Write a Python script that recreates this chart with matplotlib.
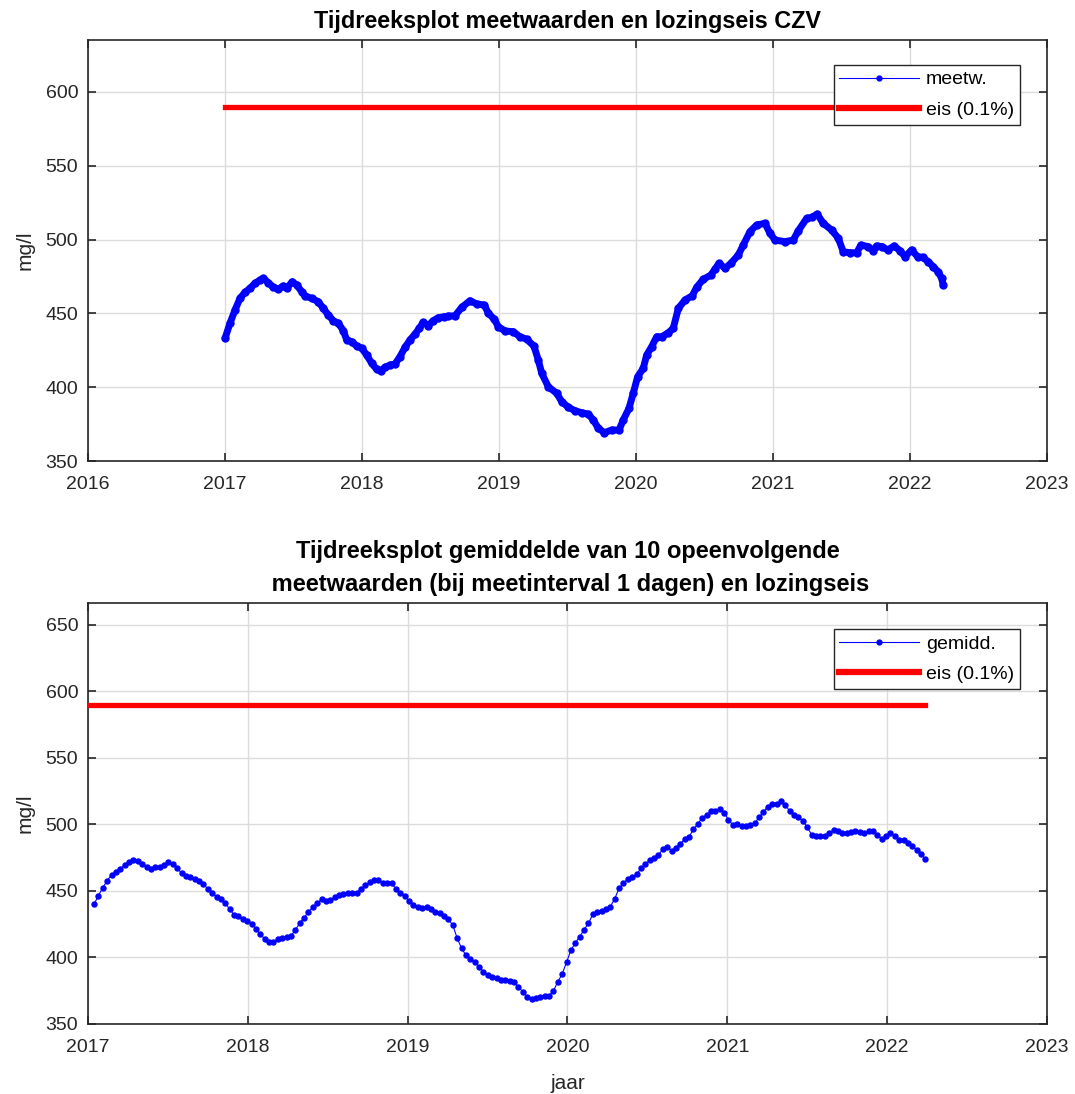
import matplotlib
matplotlib.use('Agg')
import matplotlib.pyplot as plt
from matplotlib.lines import Line2D
import numpy as np

plt.rcParams['font.family'] = ['Liberation Sans', 'DejaVu Sans']

top_t = [2017.000, 2017.036, 2017.073, 2017.109, 2017.146, 2017.182, 2017.219, 2017.255, 2017.280, 2017.316,
         2017.353, 2017.389, 2017.426, 2017.450, 2017.491, 2017.523, 2017.560, 2017.584, 2017.633, 2017.681,
         2017.718, 2017.754, 2017.791, 2017.827, 2017.864, 2017.888, 2017.925, 2017.961, 2017.998, 2018.034,
         2018.071, 2018.107, 2018.136, 2018.168, 2018.204, 2018.241, 2018.277, 2018.314, 2018.350, 2018.387,
         2018.418, 2018.447, 2018.484, 2018.520, 2018.557, 2018.601, 2018.630, 2018.679, 2018.728, 2018.788,
         2018.837, 2018.893, 2018.922, 2018.966, 2018.995, 2019.044, 2019.104, 2019.153, 2019.202, 2019.255,
         2019.287, 2019.312, 2019.360, 2019.421, 2019.458, 2019.506, 2019.555, 2019.604, 2019.652, 2019.688,
         2019.725, 2019.769, 2019.823, 2019.876, 2019.907, 2019.949, 2019.980, 2020.012, 2020.053, 2020.078,
         2020.114, 2020.151, 2020.188, 2020.236, 2020.272, 2020.309, 2020.358, 2020.411, 2020.443, 2020.491,
         2020.547, 2020.577, 2020.606, 2020.650, 2020.693, 2020.747, 2020.783, 2020.832, 2020.881, 2020.942,
         2020.978, 2021.015, 2021.088, 2021.148, 2021.185, 2021.246, 2021.282, 2021.323, 2021.367, 2021.428,
         2021.477, 2021.513, 2021.562, 2021.611, 2021.642, 2021.696, 2021.732, 2021.756, 2021.798, 2021.837,
         2021.885, 2021.927, 2021.964, 2022.012, 2022.056, 2022.092, 2022.134, 2022.170, 2022.206, 2022.231,
         2022.243]
top_v = [433.1, 443.3, 452.3, 460.2, 464.3, 467.0, 470.4, 472.6, 473.8, 470.8,
         467.7, 466.5, 468.6, 467.0, 471.5, 469.2, 464.7, 461.8, 460.2, 457.9,
         453.4, 448.9, 444.9, 443.3, 438.3, 432.0, 430.8, 427.9, 426.4, 421.8,
         416.2, 412.1, 411.0, 413.5, 415.0, 415.7, 420.7, 427.0, 432.0, 436.0,
         439.9, 444.0, 441.7, 445.1, 447.1, 447.8, 448.2, 448.4, 454.1, 458.6,
         456.4, 455.7, 450.1, 446.0, 441.0, 438.1, 437.6, 434.2, 432.5, 427.9,
         418.4, 409.4, 400.3, 395.9, 390.2, 386.4, 384.1, 382.7, 381.8, 377.8,
         372.2, 369.2, 371.0, 371.0, 377.8, 385.7, 395.9, 407.1, 412.8, 421.8,
         427.4, 434.2, 434.2, 436.9, 439.9, 453.4, 459.1, 462.0, 467.7, 473.1,
         476.0, 480.1, 483.9, 480.6, 483.9, 489.6, 496.3, 505.4, 509.9, 511.0,
         504.3, 499.7, 498.6, 499.7, 506.0, 514.4, 515.0, 517.3, 511.0, 506.5,
         500.9, 491.8, 491.1, 491.1, 496.3, 495.2, 492.5, 495.7, 495.2, 493.0,
         495.7, 492.5, 488.4, 493.0, 488.4, 488.0, 485.0, 481.6, 478.2, 473.8,
         469.2]

# 10-day means, first one mid January 2017
gem_start = 2017.0375
gem_step = 10 / 365.25
gem_v = [440.0, 446.5, 452.5, 457.7, 462.3, 464.5, 466.8, 469.5, 471.6, 473.3,
         472.6, 470.3, 467.8, 466.8, 468.3, 468.3, 469.8, 471.6, 470.3, 467.3,
         463.3, 461.5, 460.3, 459.3, 457.7, 455.0, 451.7, 448.7, 445.3, 443.8,
         441.0, 436.2, 432.0, 431.2, 428.7, 427.4, 425.2, 421.4, 417.7, 413.9,
         411.9, 411.4, 413.7, 414.7, 415.7, 416.2, 420.7, 425.7, 429.9, 434.2,
         437.7, 440.7, 443.8, 442.5, 443.2, 445.3, 447.0, 447.7, 448.3, 448.7,
         448.7, 451.3, 454.3, 456.5, 458.3, 458.3, 456.2, 455.8, 455.8, 451.5,
         448.7, 446.5, 442.3, 439.7, 438.2, 437.2, 437.7, 436.2, 434.2, 433.5,
         431.2, 428.7, 424.2, 414.4, 406.9, 401.6, 398.6, 396.6, 392.9, 389.3,
         386.8, 385.3, 384.6, 383.3, 382.8, 382.1, 381.6, 378.0, 374.0, 370.5,
         368.8, 369.5, 370.3, 371.3, 371.3, 375.0, 381.8, 387.6, 396.6, 405.6,
         410.9, 415.7, 420.9, 425.7, 432.5, 434.0, 434.7, 436.5, 438.2, 444.2,
         452.0, 456.0, 459.0, 460.8, 462.5, 467.0, 470.0, 473.3, 474.8, 477.3,
         481.3, 483.3, 480.3, 482.6, 485.6, 488.9, 490.8, 496.4, 500.4, 505.1,
         507.1, 509.9, 510.4, 511.4, 508.9, 503.4, 499.6, 500.2, 498.9, 498.9,
         499.6, 500.9, 505.4, 509.6, 513.4, 515.4, 515.6, 517.4, 514.7, 509.9,
         507.4, 505.4, 502.6, 497.9, 492.3, 491.4, 491.4, 491.1, 493.4, 495.9,
         495.1, 493.6, 493.4, 494.6, 495.3, 494.6, 493.4, 495.3, 495.3, 492.3,
         489.3, 491.1, 493.4, 491.4, 488.6, 488.3, 486.3, 483.8, 481.0, 478.0,
         473.8]
gem_t = gem_start + gem_step * np.arange(len(gem_v))

eis = 590
eis_t = [2017.0, 2022.24]

fig = plt.figure(figsize=(10.75, 10.94), dpi=100)
ax1 = fig.add_axes([0.0819, 0.5786, 0.892, 0.3848])
ax2 = fig.add_axes([0.0819, 0.0640, 0.892, 0.3848])

ax1.plot(top_t, top_v, color='#0000ff', lw=5.0, marker='o', ms=5.0, solid_joinstyle='round',
         solid_capstyle='round', zorder=3)
ax1.plot(eis_t, [eis, eis], color='#ff0000', lw=3.8, zorder=3)
ax2.plot(gem_t, gem_v, color='#0000ff', lw=0.8, marker='o', ms=3.6, zorder=3)
ax2.plot(eis_t, [eis, eis], color='#ff0000', lw=3.8, zorder=3)

ax1.set_xlim(2016, 2023)
ax1.set_ylim(350, 635.2)
ax1.set_xticks(range(2016, 2024))
ax1.set_yticks(range(350, 601, 50))
ax2.set_xlim(2017, 2023)
ax2.set_ylim(350, 666.5)
ax2.set_xticks(range(2017, 2024))
ax2.set_yticks(range(350, 651, 50))

for ax in (ax1, ax2):
    ax.grid(True, color='#dcdcdc', lw=1.0)
    ax.set_axisbelow(True)
    ax.tick_params(direction='in', top=True, right=True, length=6, width=1.2,
                   labelsize=14, colors='#262626')
    ax.tick_params(axis='x', pad=11)
    ax.tick_params(axis='y', pad=7)
    for s in ax.spines.values():
        s.set_color('#262626')
        s.set_linewidth(1.2)
    ax.set_ylabel('mg/l', fontsize=15, color='#262626', labelpad=8)

ax1.set_title('Tijdreeksplot meetwaarden en lozingseis CZV', fontsize=16.8, fontweight='bold', pad=9)
ax2.set_title('Tijdreeksplot gemiddelde van 10 opeenvolgende\n meetwaarden (bij meetinterval 1 dagen) en lozingseis',
              fontsize=17, fontweight='bold', pad=9, linespacing=1.55)
ax2.set_xlabel('jaar', fontsize=15, color='#262626', labelpad=13)

def legend(ax, label, y):
    h = [Line2D([], [], color='#0000ff', lw=0.8, marker='o', ms=3.5),
         Line2D([], [], color='#ff0000', lw=4.5)]
    lg = ax.legend(h, [label, 'eis (0.1%)'], loc='upper right', bbox_to_anchor=(0.9718, y),
                   fontsize=14, handlelength=4.1, fancybox=False, framealpha=1,
                   edgecolor='#262626', borderpad=0.3, labelspacing=0.65, handletextpad=0.35,
                   borderaxespad=0)
    lg.get_frame().set_linewidth(1.0)

legend(ax1, 'meetw.', 0.9406)
legend(ax2, 'gemidd.', 0.938)

fig.savefig('out.png', dpi=100)
